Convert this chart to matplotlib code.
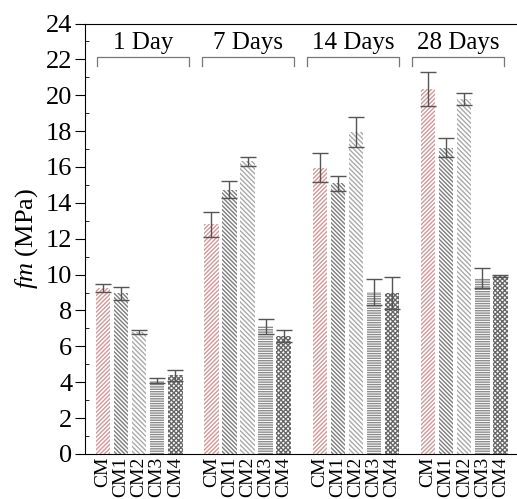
import numpy as np
import matplotlib
matplotlib.use('Agg')
import matplotlib.pyplot as plt

plt.rcParams['font.family'] = 'serif'
plt.rcParams['font.serif'] = ['Liberation Serif', 'DejaVu Serif']
plt.rcParams['mathtext.fontset'] = 'custom'
plt.rcParams['mathtext.it'] = 'serif:italic'
plt.rcParams['mathtext.rm'] = 'serif'
plt.rcParams['hatch.linewidth'] = 1.0

ages = ['1 Day', '7 Days', '14 Days', '28 Days']
mixes = ['CM', 'CM1', 'CM2', 'CM3', 'CM4']

# fm mean (MPa), one list per mix, ordered by age
CM  = [9.25, 12.8, 15.95, 20.35]
CM1 = [8.95, 14.73, 15.09, 17.08]
CM2 = [6.79, 16.31, 17.97, 19.8]
CM3 = [4.08, 7.12, 9.02, 9.8]
CM4 = [4.38, 6.6, 8.97, 9.92]

# standard deviations
CM_sd  = [0.2, 0.71, 0.81, 0.96]
CM1_sd = [0.35, 0.48, 0.41, 0.51]
CM2_sd = [0.12, 0.26, 0.84, 0.34]
CM3_sd = [0.14, 0.43, 0.72, 0.55]
CM4_sd = [0.3, 0.33, 0.9, 0.06]

means = [CM, CM1, CM2, CM3, CM4]
sds = [CM_sd, CM1_sd, CM2_sd, CM3_sd, CM4_sd]
hatches = ['/' * 8, '\\' * 8, '\\' * 7, '-' * 7, 'x' * 7]
colors = ['#d39999', '#7d7d7d', '#aaaaaa', '#8c8c8c', '#686868']

fig = plt.figure(figsize=(5.17, 4.99), dpi=100)
ax = fig.add_axes([0.1644, 0.0902, 0.8356, 0.8627])

step = 6
xt, xl = [], []
for i in range(len(mixes)):
    x = np.arange(len(ages)) * step + i
    ax.bar(x, means[i], width=0.8, color='white', edgecolor=colors[i],
           linewidth=0, hatch=hatches[i], zorder=2)
    ax.errorbar(x, means[i], yerr=sds[i], fmt='none', ecolor='#555555',
                elinewidth=1, capsize=5.5, capthick=1, zorder=3)
    xt += list(x)
    xl += [mixes[i]] * len(ages)

ax.set_xticks(xt)
ax.set_xticklabels(xl, rotation=90, fontsize=14)
ax.tick_params(axis='x', length=0, pad=2)

ax.set_ylim(0, 24)
ax.set_xlim(-1.0, 22.92)
ax.set_yticks(np.arange(0, 25, 2))
ax.set_yticks(np.arange(1, 24, 2), minor=True)
ax.tick_params(axis='y', which='major', direction='out', length=7, labelsize=19, pad=2)
ax.tick_params(axis='y', which='minor', direction='in', length=3)
ax.set_ylabel('$\\mathit{fm}$ (MPa)', fontsize=19, labelpad=4)
ax.spines['right'].set_visible(False)

# brackets with age labels
for g, lab in enumerate(ages):
    c = 2.2 + g * 5.82
    x0, x1 = c - 2.55, c + 2.55
    ax.plot([x0, x0, x1, x1], [21.62, 22.14, 22.14, 21.62], color='#777777', lw=0.9)
    ax.text(c, 22.9, lab, ha='center', va='center', fontsize=18)

fig.savefig('out.png', dpi=100)
